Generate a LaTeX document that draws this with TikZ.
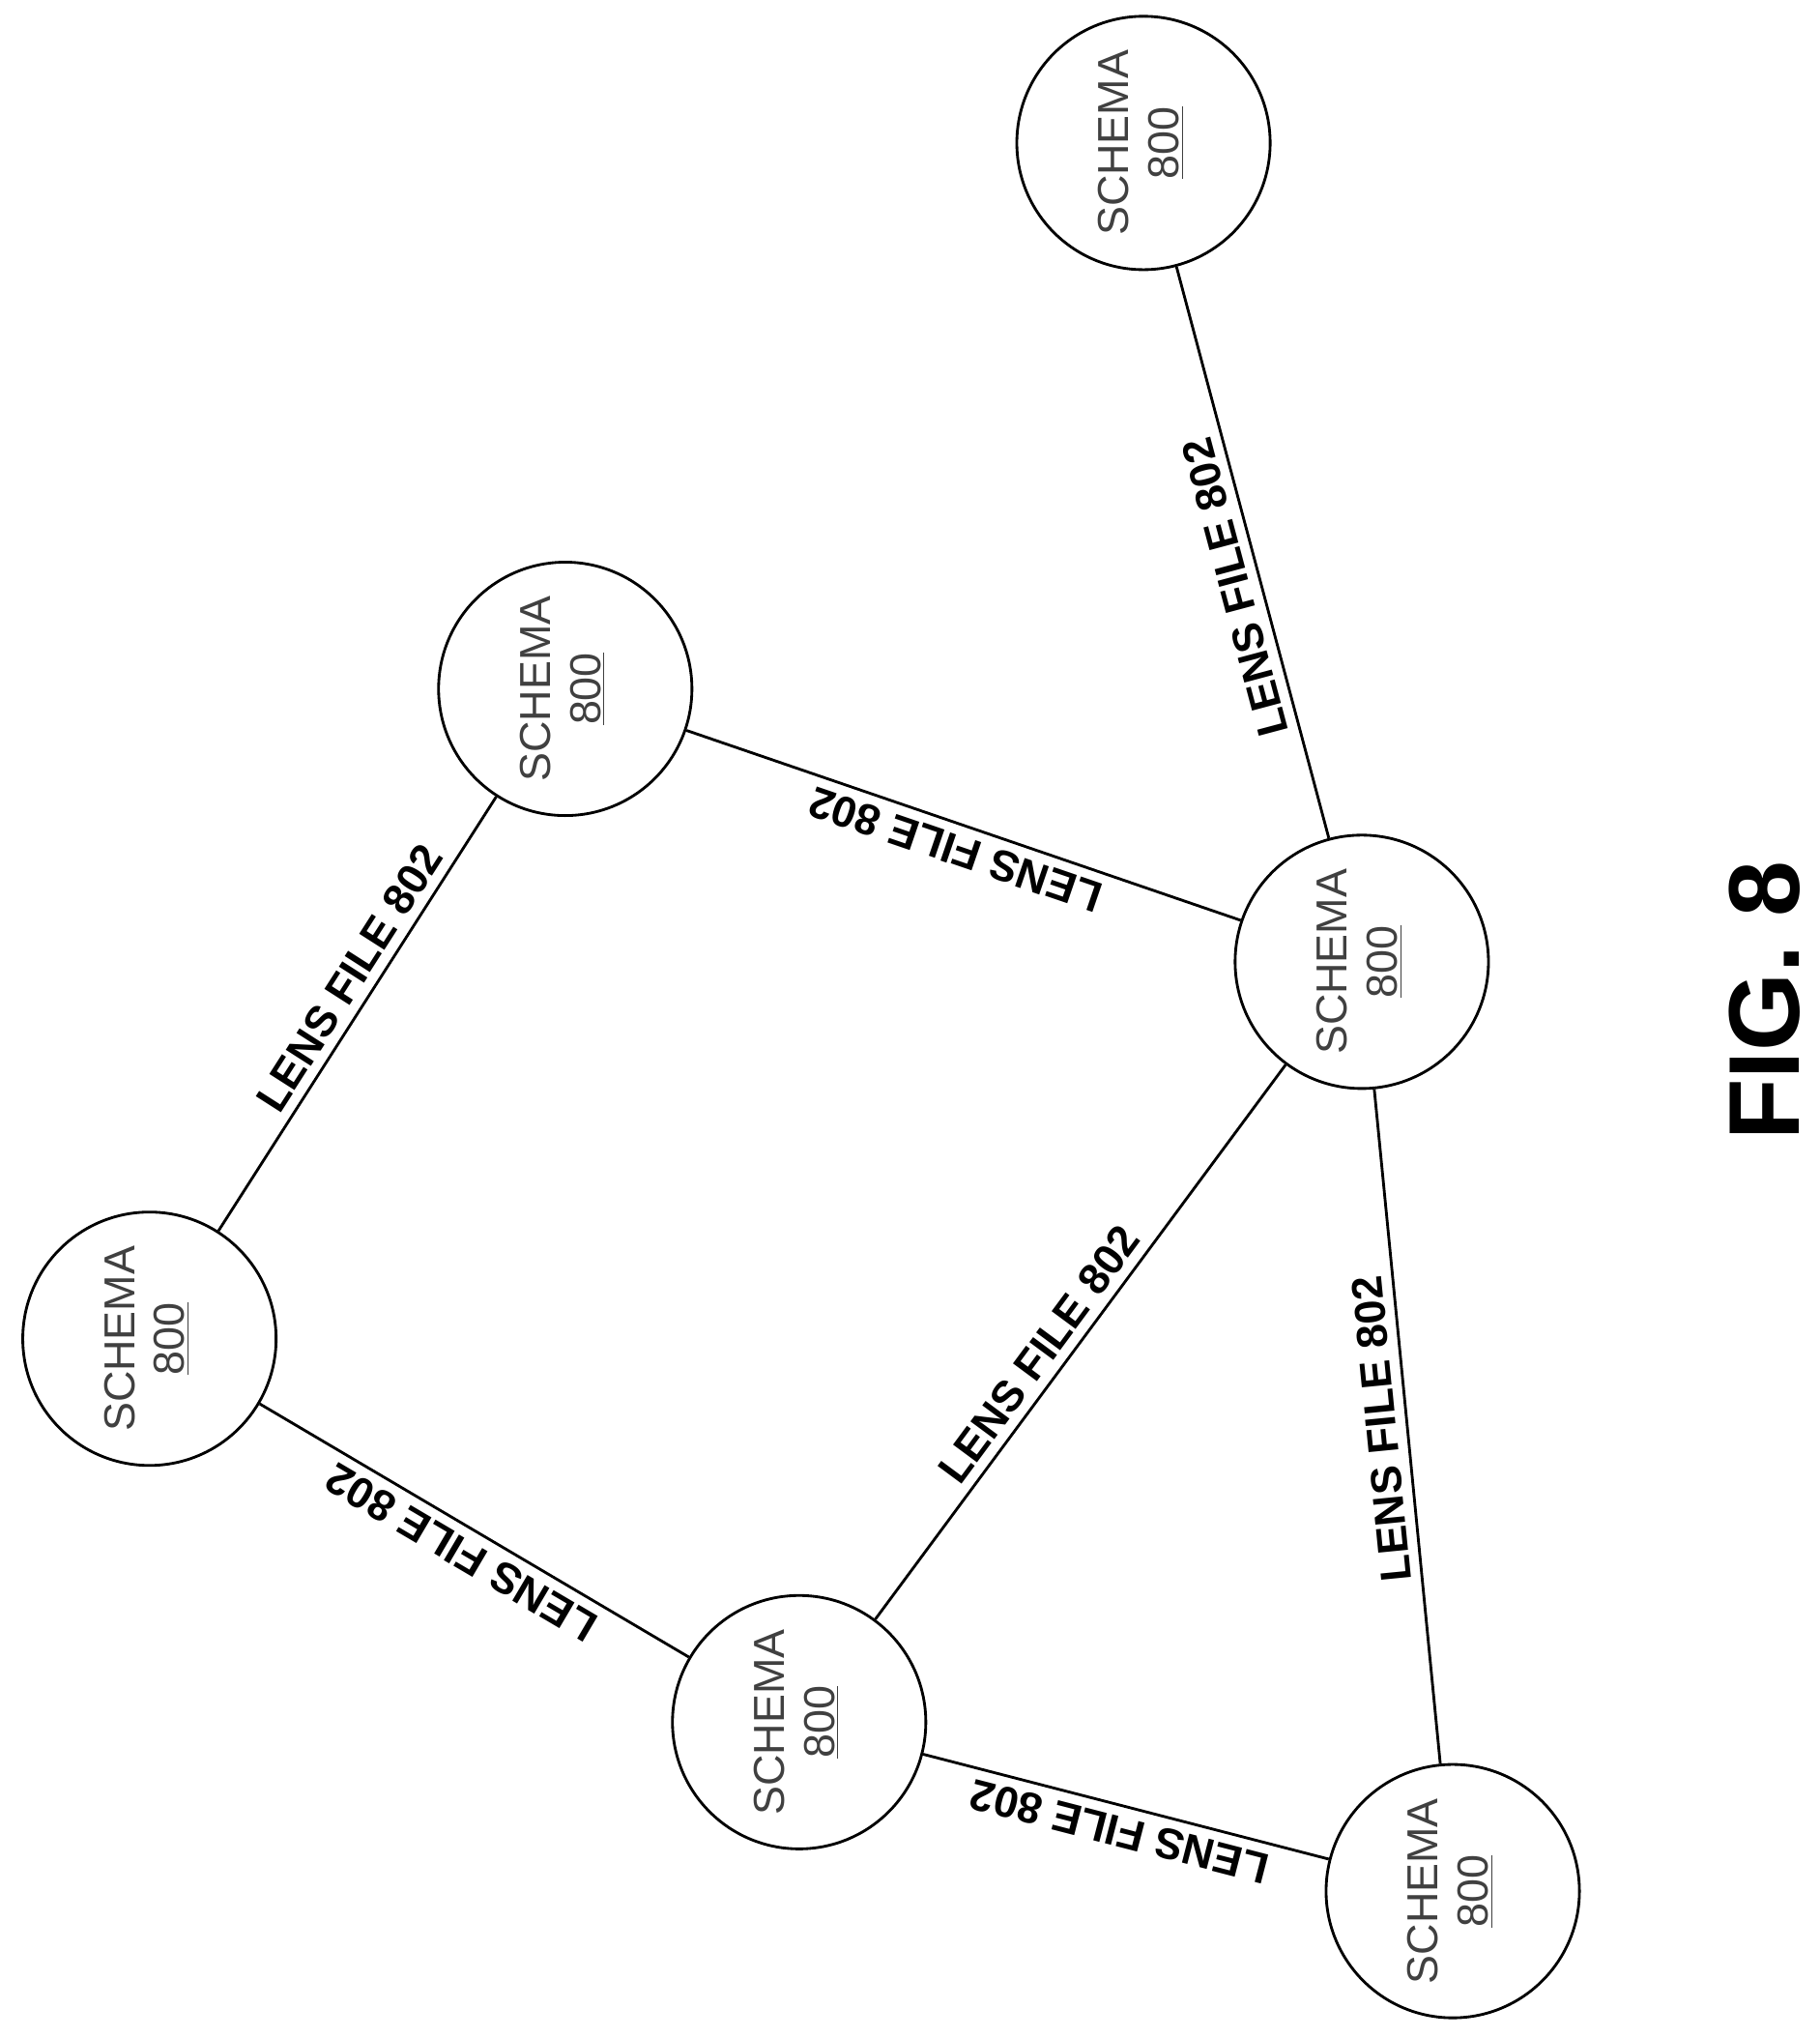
\documentclass[tikz,border=0pt]{standalone}
\usepackage{fontspec}
\setmainfont{Liberation Sans}
\usetikzlibrary{positioning}
\tikzstyle{schema} = [circle, draw=black, line width=1.2pt, minimum size=3.9cm, align=center, inner sep=0pt, font=\fontsize{19}{22}\selectfont\color{black!75}]
\tikzstyle{lens} = [line width=1.2pt]
\tikzstyle{lbl} = [sloped, above, inner sep=4pt, font=\fontsize{19}{24}\selectfont\bfseries]

\begin{document}
\begin{tikzpicture}[x=0.02cm, y=-0.02cm]
\useasboundingbox (0,0) rectangle (1400,1568);

% Schema nodes
\node (top) [schema] at (880,110) {\rotatebox{90}{\begin{tabular}{@{}c@{}}SCHEMA\\\underline{800}\end{tabular}}};
\node (upper) [schema] at (435,530) {\rotatebox{90}{\begin{tabular}{@{}c@{}}SCHEMA\\\underline{800}\end{tabular}}};
\node (hub) [schema] at (1048,740) {\rotatebox{90}{\begin{tabular}{@{}c@{}}SCHEMA\\\underline{800}\end{tabular}}};
\node (left) [schema] at (115,1030) {\rotatebox{90}{\begin{tabular}{@{}c@{}}SCHEMA\\\underline{800}\end{tabular}}};
\node (lower) [schema] at (615,1325) {\rotatebox{90}{\begin{tabular}{@{}c@{}}SCHEMA\\\underline{800}\end{tabular}}};
\node (corner) [schema] at (1118,1455) {\rotatebox{90}{\begin{tabular}{@{}c@{}}SCHEMA\\\underline{800}\end{tabular}}};

% Lens files
\draw [lens] (hub) -- node[lbl, allow upside down, pos=0.45] {LENS FILE 802} (top);
\draw [lens] (hub) -- node[lbl, allow upside down, pos=0.5] {LENS FILE 802} (upper);
\draw [lens] (left) -- node[lbl, pos=0.55] {LENS FILE 802} (upper);
\draw [lens] (lower) -- node[lbl, allow upside down, pos=0.5] {LENS FILE 802} (left);
\draw [lens] (lower) -- node[lbl, pos=0.45] {LENS FILE 802} (hub);
\draw [lens] (corner) -- node[lbl, allow upside down, pos=0.5] {LENS FILE 802} (hub);
\draw [lens] (corner) -- node[lbl, allow upside down, pos=0.5] {LENS FILE 802} (lower);

% Caption
\node (fig) [rotate=90, font=\fontsize{44}{50}\selectfont\bfseries] at (1358,770) {FIG. 8};

\end{tikzpicture}
\end{document}
